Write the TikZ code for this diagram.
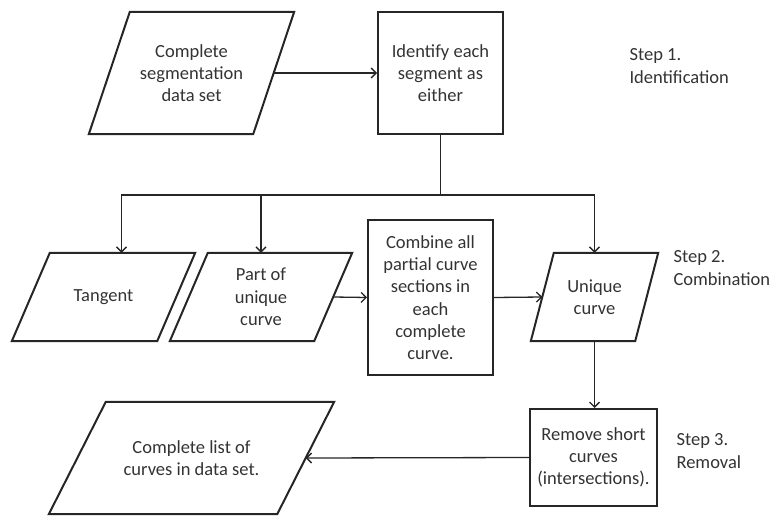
\documentclass[tikz,border=0pt]{standalone}
\usepackage{fontspec}
\setmainfont{Carlito}
\usetikzlibrary{arrows.meta}

\begin{document}
\begin{tikzpicture}[x=1pt,y=-1pt,
    every node/.style={font=\fontsize{18.5}{22.3}\selectfont, text=black!80, align=center},
    box/.style={draw=black!85, line width=2pt},
    data/.style={inner sep=0pt},
    outline/.style={draw=black!85, line width=2pt},
    arr/.style={draw=black!85, line width=1.3pt, -{Straight Barb[length=5pt,width=10pt]}}]
    \useasboundingbox (0,0) rectangle (774,516);

    %step 1
    \node[data, minimum width=164, minimum height=122] (seg) at (191.5,73) {Complete\\segmentation\\data set};
    \node[box, minimum width=125, minimum height=122] (ident) at (440.5,73) {Identify each\\segment as\\either};
    \node[anchor=west, align=left] (step1) at (626,66) {Step 1.\\Identification};

    %step 2
    \node[data, minimum width=145, minimum height=88] (tangent) at (103.5,297) {Tangent};
    \node[data, minimum width=144, minimum height=88] (part) at (261,297) {Part of\\unique\\curve};
    \node[box, minimum width=125, minimum height=155] (comb) at (430.5,297.5) {Combine all\\partial curve\\sections in\\each\\complete\\curve.};
    \node[data, minimum width=104, minimum height=88] (unique) at (594.5,297) {Unique\\curve};
    \node[anchor=west, align=left] (step2) at (670,268) {Step 2.\\Combination};

    %step 3
    \node[box, minimum width=127, minimum height=97] (remove) at (593.5,457.5) {Remove short\\curves\\(intersections).};
    \node[data, minimum width=228, minimum height=112] (final) at (191.5,458) {Complete list of\\curves in data set.};
    \node[anchor=west, align=left] (step3) at (673,451) {Step 3.\\Removal};

    %parallelograms
    \foreach \n/\d in {seg/41, tangent/38, part/38, unique/23, final/57}
        \draw[outline] ([xshift={-\d/2}]\n.south west) -- ([xshift={-\d/2}]\n.south east)
            -- ([xshift={\d/2}]\n.north east) -- ([xshift={\d/2}]\n.north west) -- cycle;

    %links
    \draw[arr] (seg.east) -- (ident.west);
    \draw[line width=1.3pt, black!85] (ident.south) -- ++(0,60) coordinate (split);
    \draw[arr] (split) -| ([xshift=18]tangent.north);
    \draw[arr] (split) -| (unique.north);
    \draw[arr] (split -| part.north) -- (part.north);
    \draw[arr] (part.east) -- (comb.west);
    \draw[arr] (comb.east) -- (unique.west);
    \draw[arr] (unique.south) -- (unique.south |- remove.north);
    \draw[arr] (remove.west) -- (final.east);
\end{tikzpicture}
\end{document}
